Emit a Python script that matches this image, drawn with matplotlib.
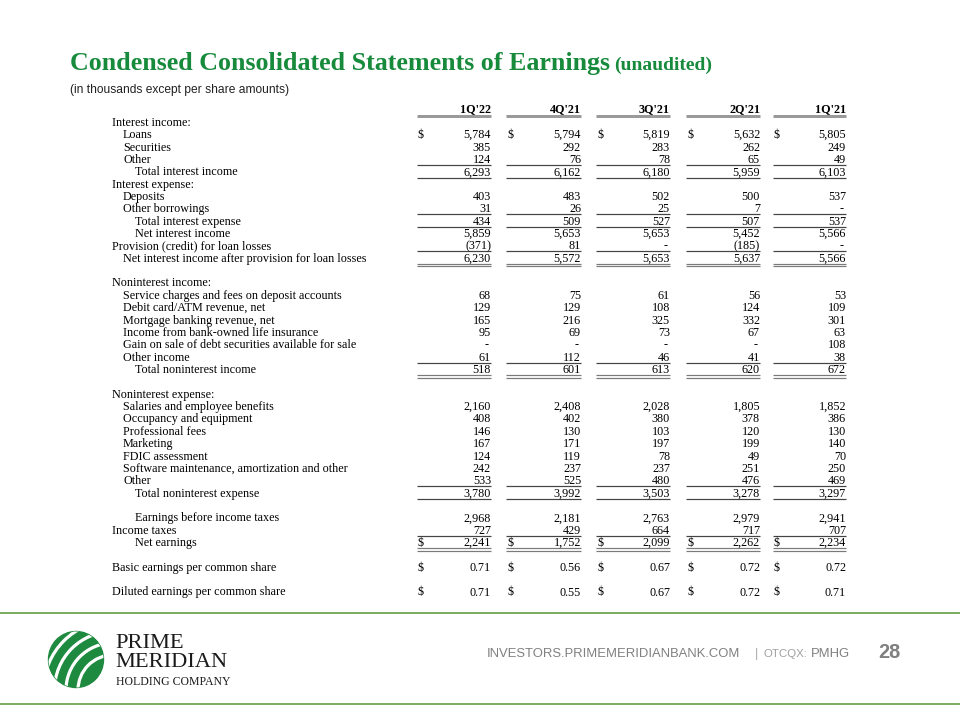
import matplotlib
matplotlib.use("Agg")
import matplotlib.pyplot as plt
from matplotlib.patches import Ellipse, Circle

# ---- data -----------------------------------------------------------------
QUARTERS = ["1Q'22", "4Q'21", "3Q'21", "2Q'21", "1Q'21"]

LABELS = [
    "Interest income:", "Loans", "Securities", "Other", "Total interest income",
    "Interest expense:", "Deposits", "Other borrowings", "Total interest expense",
    "Net interest income", "Provision (credit) for loan losses",
    "Net interest income after provision for loan losses", "",
    "Noninterest income:", "Service charges and fees on deposit accounts",
    "Debit card/ATM revenue, net", "Mortgage banking revenue, net",
    "Income from bank-owned life insurance",
    "Gain on sale of debt securities available for sale", "Other income",
    "Total noninterest income", "",
    "Noninterest expense:", "Salaries and employee benefits", "Occupancy and equipment",
    "Professional fees", "Marketing", "FDIC assessment",
    "Software maintenance, amortization and other", "Other",
    "Total noninterest expense", "",
    "Earnings before income taxes", "Income taxes", "Net earnings", "",
    "Basic earnings per common share", "",
    "Diluted earnings per common share",
]
LEVELS = [0, 1, 1, 1, 2, 0, 1, 1, 2, 2, 0, 1, 0,
          0, 1, 1, 1, 1, 1, 1, 2, 0,
          0, 1, 1, 1, 1, 1, 1, 1, 2, 0,
          2, 0, 2, 0, 0, 0, 0]

N = None
q1_22 = [N, 5784, 385, 124, 6293, N, 403, 31, 434, 5859, -371, 6230, N,
         N, 68, 129, 165, 95, 0, 61, 518, N,
         N, 2160, 408, 146, 167, 124, 242, 533, 3780, N,
         2968, 727, 2241, N, 0.71, N, 0.71]
q4_21 = [N, 5794, 292, 76, 6162, N, 483, 26, 509, 5653, 81, 5572, N,
         N, 75, 129, 216, 69, 0, 112, 601, N,
         N, 2408, 402, 130, 171, 119, 237, 525, 3992, N,
         2181, 429, 1752, N, 0.56, N, 0.55]
q3_21 = [N, 5819, 283, 78, 6180, N, 502, 25, 527, 5653, 0, 5653, N,
         N, 61, 108, 325, 73, 0, 46, 613, N,
         N, 2028, 380, 103, 197, 78, 237, 480, 3503, N,
         2763, 664, 2099, N, 0.67, N, 0.67]
q2_21 = [N, 5632, 262, 65, 5959, N, 500, 7, 507, 5452, -185, 5637, N,
         N, 56, 124, 332, 67, 0, 41, 620, N,
         N, 1805, 378, 120, 199, 49, 251, 476, 3278, N,
         2979, 717, 2262, N, 0.72, N, 0.72]
q1_21 = [N, 5805, 249, 49, 6103, N, 537, 0, 537, 5566, 0, 5566, N,
         N, 53, 109, 301, 63, 108, 38, 672, N,
         N, 1852, 386, 130, 140, 70, 250, 469, 3297, N,
         2941, 707, 2234, N, 0.72, N, 0.71]
COLUMNS = [q1_22, q4_21, q3_21, q2_21, q1_21]

DOLLAR_ROWS = {1, 34, 36, 38}
EPS_ROWS = {36, 38}
RULE_ABOVE = {4, 8, 11, 20, 30, 34}
RULE_BELOW = {4, 8, 30}
DOUBLE_BELOW = {11, 20, 34}

# ---- layout (pixels) --------------------------------------------------------
GREEN = "#178a3c"
COL_RIGHT = [491, 581, 670, 760, 846]
COL_LEFT = [417, 506, 596, 686, 773]
INDENT = [112, 123, 135]
Y0, STEP = 122, (591.7 - 122) / 38
SERIF = "Liberation Serif"
SANS = ["Liberation Sans Narrow", "Liberation Sans"]
PT = 0.72  # points per pixel at dpi 100


def fmt(v, eps):
    if eps:
        return f"{v:.2f}"
    if v == 0:
        return "-"
    if v < 0:
        return f"({-v:,})"
    return f"{v:,}"


fig = plt.figure(figsize=(9.6, 7.2), dpi=100)
ax = fig.add_axes([0, 0, 1, 1])
ax.set_xlim(0, 960)
ax.set_ylim(720, 0)
ax.axis("off")

# title
ax.text(70, 70, "Condensed Consolidated Statements of Earnings", family=SERIF,
        weight="bold", size=26 * PT, color=GREEN, va="baseline")
ax.text(614, 70, "(unaudited)", family=SERIF, weight="bold", size=19.5 * PT,
        color=GREEN, va="baseline")
ax.text(70, 93, "(in thousands except per share amounts)", family=SANS,
        size=12 * PT, color="#222222", va="baseline")

fs = 12.1 * PT
base = 3.8
# column headers
for q, r, l in zip(QUARTERS, COL_RIGHT, COL_LEFT):
    ax.text(r, 112, q, family=SERIF, weight="bold", size=fs, ha="right", va="baseline")
    ax.plot([l, r], [116, 116], color="#9a9a9a", lw=3 * PT, solid_capstyle="butt")

# rows
for i, (lab, lev) in enumerate(zip(LABELS, LEVELS)):
    y = Y0 + i * STEP
    if lab:
        ax.text(INDENT[lev], y + base, lab, family=SERIF, size=fs, va="baseline")
    for col, r, l in zip(COLUMNS, COL_RIGHT, COL_LEFT):
        v = col[i]
        if v is not None:
            s = fmt(v, i in EPS_ROWS)
            xr = r - 2 if s == "-" else r
            ax.text(xr, y + base, s, family=SERIF, size=fs, ha="right", va="baseline")
            if i in DOLLAR_ROWS:
                ax.text(l + 1, y + base, "$", family=SERIF, size=fs, va="baseline")
        if i in RULE_ABOVE:
            ax.plot([l, r], [y - 6.5] * 2, color="#444444", lw=1.2 * PT,
                    solid_capstyle="butt")
        if i in RULE_BELOW:
            ax.plot([l, r], [y + 6.5] * 2, color="#444444", lw=1.2 * PT,
                    solid_capstyle="butt")
        if i in DOUBLE_BELOW:
            for dy in (6.2, 8.4):
                ax.plot([l, r], [y + dy] * 2, color="#7a7a7a", lw=1.2 * PT,
                        solid_capstyle="butt")

# footer rules
for yy in (613, 704):
    ax.plot([0, 960], [yy, yy], color="#5c9a3c", lw=1.6 * PT)

# logo mark
oval = Ellipse((76, 659.5), 55, 56, color="#1e8a3f", zorder=3)
ax.add_patch(oval)
for rad in (35, 47, 58.5, 69.5):
    c = Circle((113, 690), rad, fill=False, edgecolor="white", lw=3.2 * PT, zorder=4)
    ax.add_patch(c)
    c.set_clip_path(oval)

ax.text(115, 667, "PRIME\nMERIDIAN", family=SERIF, size=22.5 * PT, color="#1a1a1a",
        va="baseline", linespacing=1.0)
ax.text(116, 685, "HOLDING COMPANY", family=SERIF, size=11.8 * PT, color="#1a1a1a",
        va="baseline")

# footer text
ax.text(487, 657, "INVESTORS.PRIMEMERIDIANBANK.COM", family=SANS, size=13 * PT,
        color="#808080", va="baseline")
ax.text(755, 657, "|", family=SANS, size=12 * PT, color="#a8a8a8", va="baseline")
ax.text(764, 657, "OTCQX:", family=SANS, size=11.5 * PT, color="#a0a0a0", va="baseline")
ax.text(811, 657, "PMHG", family=SANS, size=13 * PT, color="#808080", va="baseline")
ax.text(878, 658, "28", family=SANS, weight="bold", size=20 * PT, color="#808080",
        va="baseline")

fig.savefig("out.png", dpi=100)
